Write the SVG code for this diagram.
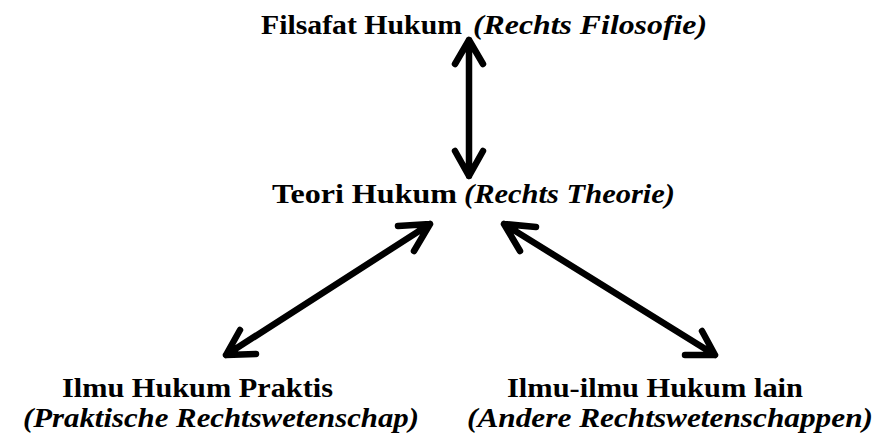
<svg xmlns="http://www.w3.org/2000/svg" width="894" height="439" viewBox="0 0 894 439">
<style>
.t{font-family:"Liberation Serif","Times New Roman",serif;font-weight:bold;font-size:28px;fill:#000}
.i{font-style:italic}
.a{stroke:#000;stroke-width:6.5;stroke-linecap:round;stroke-linejoin:round;fill:none}
</style>
<rect width="894" height="439" fill="#fff"/>
<g id="filsafat"><text class="t" x="261" y="34" textLength="201" lengthAdjust="spacingAndGlyphs">Filsafat Hukum</text><text class="t i" x="473" y="34" textLength="234" lengthAdjust="spacingAndGlyphs">(Rechts Filosofie)</text></g>
<g id="teori"><text class="t" x="272" y="203" textLength="185" lengthAdjust="spacingAndGlyphs">Teori Hukum</text><text class="t i" x="464" y="203" textLength="211" lengthAdjust="spacingAndGlyphs">(Rechts Theorie)</text></g>
<g id="praktis"><text class="t" x="62" y="397" textLength="271" lengthAdjust="spacingAndGlyphs">Ilmu Hukum Praktis</text><text class="t i" x="23" y="427" textLength="396" lengthAdjust="spacingAndGlyphs">(Praktische Rechtswetenschap)</text></g>
<g id="lain"><text class="t" x="507" y="397" textLength="296" lengthAdjust="spacingAndGlyphs">Ilmu-ilmu Hukum lain</text><text class="t i" x="467" y="427" textLength="406" lengthAdjust="spacingAndGlyphs">(Andere Rechtswetenschappen)</text></g>
<g id="connectors">
<path class="a" d="M469,40 V176 M455,64 L469,40 L483,64 M455,151 L469,176 L483,151"/>
<path class="a" d="M430,224 L226,355 M398,226 L430,224 L414,251 M240,330 L226,355 L256,354"/>
<path class="a" d="M504,224 L715,355 M536,227 L504,224 L520,251 M702,331 L715,355 L685,355"/>
</g>
</svg>
